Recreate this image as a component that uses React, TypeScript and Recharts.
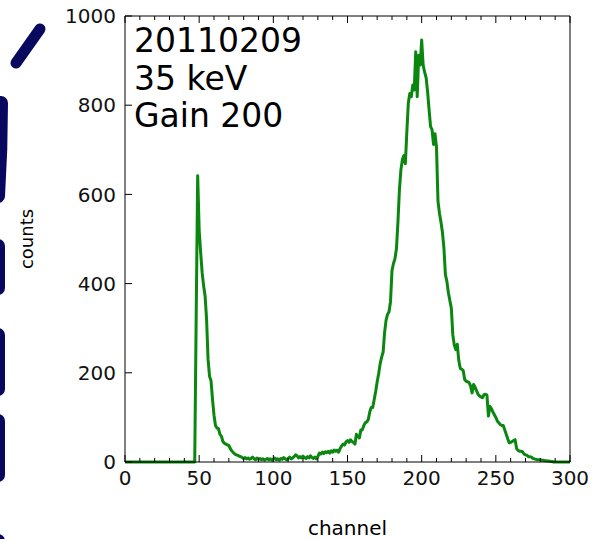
import { LineChart, Line, XAxis, YAxis, Label } from "recharts";

// counts per channel, channel = index (0..300)
const counts = [
  0, 0, 0, 0, 0, 0, 0, 0, 0, 0,
  0, 0, 0, 0, 0, 0, 0, 0, 0, 0,
  0, 0, 0, 0, 0, 0, 0, 0, 0, 0,
  0, 0, 0, 0, 0, 0, 0, 0, 0, 0,
  0, 0, 0, 0, 0, 0, 0, 0, 330, 642,
  520, 470, 425, 395, 372, 320, 230, 192, 182, 140,
  105, 82, 76, 75, 62, 58, 46, 42, 40, 38,
  37, 30, 25, 21, 18, 16, 15, 13, 12, 10,
  8, 10, 7, 9, 6, 8, 11, 7, 5, 9,
  6, 8, 5, 7, 4, 6, 8, 5, 7, 4,
  6, 9, 5, 7, 4, 8, 6, 10, 7, 5,
  8, 11, 7, 9, 12, 16, 14, 9, 12, 9,
  13, 10, 8, 12, 9, 14, 10, 8, 11, 7,
  12, 20, 18, 22, 19, 23, 21, 24, 20, 25,
  22, 27, 24, 26, 22, 30, 36, 40, 38, 45,
  48, 44, 50, 46, 44, 40, 62, 58, 54, 72,
  72, 82, 88, 90, 95, 112, 122, 122, 140, 158,
  180, 198, 220, 235, 246, 290, 318, 331, 337, 360,
  430, 445, 456, 478, 538, 610, 655, 678, 687, 669,
  740, 805, 826, 819, 845, 834, 920, 819, 912, 890,
  946, 890, 874, 862, 830, 790, 752, 745, 712, 736,
  706, 585, 558, 538, 515, 480, 420, 405, 380, 362,
  345, 285, 262, 252, 264, 228, 210, 208, 205, 185,
  181, 180, 178, 170, 155, 174, 168, 160, 152, 148,
  146, 144, 151, 152, 150, 103, 125, 120, 112, 106,
  100, 92, 88, 84, 82, 82, 72, 62, 52, 43,
  44, 46, 48, 50, 30, 26, 24, 24, 23, 18,
  16, 15, 12, 12, 11, 8, 7, 6, 5, 5,
  5, 4, 4, 3, 3, 2, 2, 1, 1, 0,
  0, 0, 0, 0, 0, 0, 0, 0, 0, 0,
  0,
];

const xTicks = [
  0, 10, 20, 30, 40, 50, 60, 70, 80, 90, 100, 110, 120, 130, 140, 150,
  160, 170, 180, 190, 200, 210, 220, 230, 240, 250, 260, 270, 280, 290, 300,
];
const xMajorStep = 50;
const yTicks = [0, 200, 400, 600, 800, 1000];
const noteLines = ["20110209", "35 keV", "Gain 200"];

const data = counts.map((v, ch) => ({ ch, v }));

const W = 593;
const H = 539;
const GREEN = "#0a870f";
const NAVY = "#08085e";
const SANS = "'DejaVu Sans', Verdana, sans-serif";
const LABEL_GAP = 8;
const Y_GAP = 9;

function BottomTick({ x, y, payload }: any) {
  const major = payload.value % xMajorStep === 0;
  const axisY = y - LABEL_GAP;
  return (
    <g>
      <line x1={x} x2={x} y1={axisY} y2={axisY - (major ? 7 : 4)} stroke="#000" />
      {major && (
        <text x={x} y={y} dy="0.73em" textAnchor="middle" fontSize={20} fontFamily={SANS} fill="#111">
          {payload.value}
        </text>
      )}
    </g>
  );
}

function TopTick({ x, y, payload }: any) {
  const major = payload.value % xMajorStep === 0;
  return <line x1={x} x2={x} y1={y} y2={y + (major ? 7 : 4)} stroke="#000" />;
}

function LeftTick({ x, y, payload }: any) {
  const axisX = x + Y_GAP;
  return (
    <g>
      <line x1={axisX} x2={axisX + 7} y1={y} y2={y} stroke="#000" />
      <text x={x} y={y} dy="0.36em" textAnchor="end" fontSize={20} fontFamily={SANS} fill="#111">
        {payload.value}
      </text>
    </g>
  );
}

function RightTick({ x, y }: any) {
  return <line x1={x} x2={x - 7} y1={y} y2={y} stroke="#000" />;
}

function CountsTitle({ viewBox }: any) {
  const cx = viewBox.x + 33;
  const cy = viewBox.y + viewBox.height / 2;
  return (
    <text
      x={cx}
      y={cy}
      transform={`rotate(-90 ${cx} ${cy})`}
      textAnchor="middle"
      fontSize={18}
      fontFamily={SANS}
      fill="#000"
    >
      counts
    </text>
  );
}

function ChannelTitle({ viewBox }: any) {
  return (
    <text
      x={viewBox.x + viewBox.width / 2}
      y={viewBox.y + viewBox.height - 4}
      textAnchor="middle"
      fontSize={20}
      fontFamily={SANS}
      fill="#000"
    >
      channel
    </text>
  );
}

export default function App() {
  return (
    <div style={{ position: "absolute", left: 0, top: 0, width: W, height: H, background: "#fff" }}>
      <LineChart width={W} height={H} data={data} margin={{ top: 0, right: 0, bottom: 0, left: 0 }}>
        <XAxis
          xAxisId="bottom"
          dataKey="ch"
          type="number"
          domain={[0, 300]}
          ticks={xTicks}
          interval={0}
          height={77}
          tickSize={0}
          tickMargin={LABEL_GAP}
          tickLine={false}
          axisLine={{ stroke: "#000" }}
          tick={<BottomTick />}
        >
          <Label content={<ChannelTitle />} />
        </XAxis>
        <XAxis
          xAxisId="top"
          orientation="top"
          dataKey="ch"
          type="number"
          domain={[0, 300]}
          ticks={xTicks}
          interval={0}
          height={16}
          tickSize={0}
          tickMargin={0}
          tickLine={false}
          axisLine={{ stroke: "#000" }}
          tick={<TopTick />}
        />
        <YAxis
          yAxisId="left"
          type="number"
          domain={[0, 1000]}
          ticks={yTicks}
          interval={0}
          width={125}
          tickSize={0}
          tickMargin={Y_GAP}
          tickLine={false}
          axisLine={{ stroke: "#000" }}
          tick={<LeftTick />}
        >
          <Label content={<CountsTitle />} />
        </YAxis>
        <YAxis
          yAxisId="right"
          orientation="right"
          type="number"
          domain={[0, 1000]}
          ticks={yTicks}
          interval={0}
          width={23}
          tickSize={0}
          tickMargin={0}
          tickLine={false}
          axisLine={{ stroke: "#000" }}
          tick={<RightTick />}
        />
        <Line
          xAxisId="bottom"
          yAxisId="left"
          type="linear"
          dataKey="v"
          stroke={GREEN}
          strokeWidth={3}
          strokeLinejoin="round"
          dot={false}
          isAnimationActive={false}
        />
      </LineChart>
      <svg
        width={W}
        height={H}
        style={{ position: "absolute", left: 0, top: 0, pointerEvents: "none" }}
      >
        {/* slide decoration strokes along the left edge */}
        <g stroke={NAVY} strokeLinecap="round" fill="none">
          <line x1={40} y1={29} x2={16} y2={63} strokeWidth={11} />
          <path d="M 1 103 Q 1 150 -2 196" strokeWidth={14} />
          <line x1={-2} y1={246} x2={-2} y2={288} strokeWidth={14} />
          <line x1={-2} y1={335} x2={-2} y2={389} strokeWidth={14} />
          <line x1={-2} y1={421} x2={-2} y2={475} strokeWidth={14} />
          <line x1={-2} y1={541} x2={-2} y2={560} strokeWidth={14} />
        </g>
        {noteLines.map((t, i) => (
          <text key={t} x={134} y={52 + i * 37.5} fontSize={33} fontFamily={SANS} fill="#000">
            {t}
          </text>
        ))}
      </svg>
    </div>
  );
}
